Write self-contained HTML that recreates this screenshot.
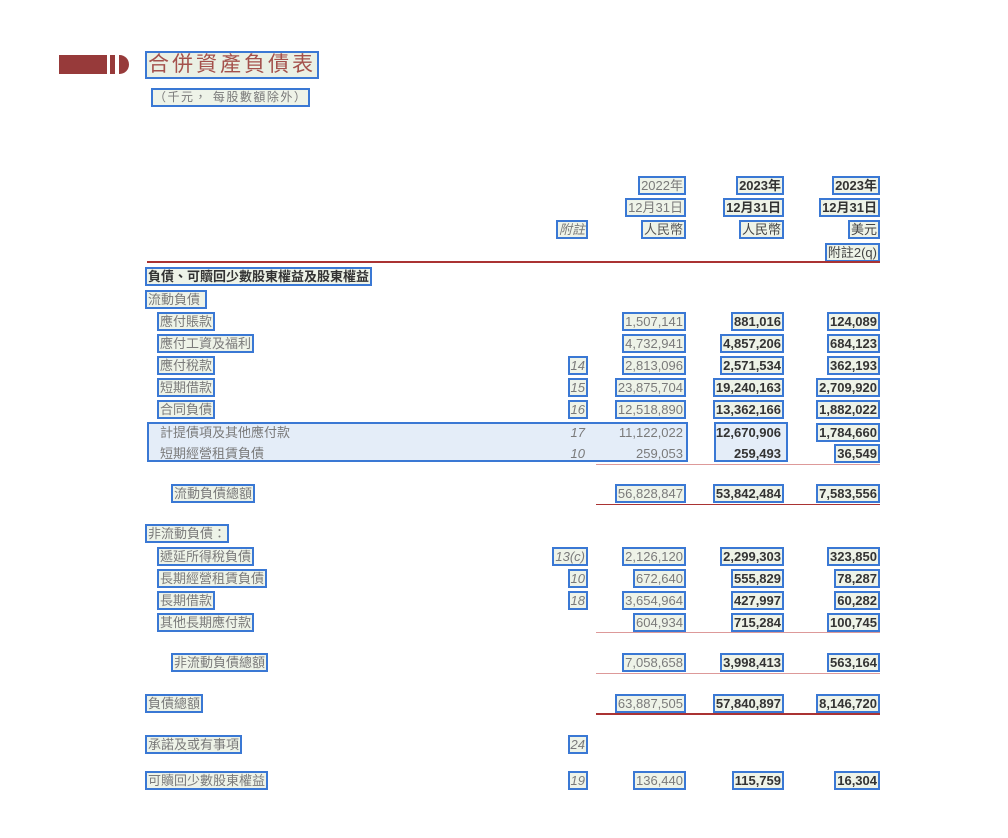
<!DOCTYPE html>
<html><head><meta charset="utf-8"><style>
body{margin:0;width:1008px;height:838px;background:#fff;position:relative;overflow:hidden;font-family:"Liberation Sans","Noto Sans CJK TC",sans-serif;}
.b{position:absolute;border:2px solid #3a78d4;background:#eef3e8;font-size:13px;line-height:15px;height:15px;padding:0 1px;color:#7a7a7a;white-space:nowrap;}
.k{color:#333;font-weight:bold;}
.i{font-style:italic;}
.t{border-color:transparent;background:transparent;}
.ln{position:absolute;height:1px;background:#d99;}
</style></head><body>
<div style="position:absolute;left:59px;top:55px;width:48px;height:19px;background:#973a3a"></div>
<div style="position:absolute;left:110px;top:55px;width:5px;height:19px;background:#973a3a"></div>
<div style="position:absolute;left:119px;top:55px;width:10px;height:19px;background:#973a3a;border-radius:0 10px 10px 0"></div>
<div class="b" style="left:145px;top:51px;height:24px;line-height:24px;font-size:21px;letter-spacing:3px;color:#a4514c;background:#eaf0e4">合併資產負債表</div>
<div class="b" style="left:151px;top:88px;font-size:12px;letter-spacing:1.5px;">（千元， 每股數額除外）</div>

<div class="b" style="right:322px;top:176px">2022年</div>
<div class="b k" style="right:224px;top:176px">2023年</div>
<div class="b k" style="right:128px;top:176px">2023年</div>
<div class="b" style="right:322px;top:198px">12月31日</div>
<div class="b k" style="right:224px;top:198px">12月31日</div>
<div class="b k" style="right:128px;top:198px">12月31日</div>
<div class="b i" style="right:420px;top:220px">附註</div>
<div class="b" style="right:322px;top:220px;color:#555">人民幣</div>
<div class="b" style="right:224px;top:220px;color:#444">人民幣</div>
<div class="b" style="right:128px;top:220px;color:#444">美元</div>
<div class="b" style="right:128px;top:243px;color:#444">附註2(q)</div>
<div class="ln" style="left:147px;top:261px;width:733px;height:2px;background:#a33"></div>

<div class="b k" style="left:145px;top:267px">負債、可贖回少數股東權益及股東權益</div>
<div class="b" style="left:145px;top:290px">流動負債&nbsp;</div>

<div style="position:absolute;left:147px;top:422px;width:537px;height:36px;background:#e4edf8;border:2px solid #3a78d4"></div>

<div class="b" style="left:157px;top:312px">應付賬款</div>
<div class="b" style="right:322px;top:312px">1,507,141</div>
<div class="b k" style="right:224px;top:312px">881,016</div>
<div class="b k" style="right:128px;top:312px">124,089</div>

<div class="b" style="left:157px;top:334px">應付工資及福利</div>
<div class="b" style="right:322px;top:334px">4,732,941</div>
<div class="b k" style="right:224px;top:334px">4,857,206</div>
<div class="b k" style="right:128px;top:334px">684,123</div>

<div class="b" style="left:157px;top:356px">應付稅款</div>
<div class="b i" style="right:420px;top:356px">14</div>
<div class="b" style="right:322px;top:356px">2,813,096</div>
<div class="b k" style="right:224px;top:356px">2,571,534</div>
<div class="b k" style="right:128px;top:356px">362,193</div>

<div class="b" style="left:157px;top:378px">短期借款</div>
<div class="b i" style="right:420px;top:378px">15</div>
<div class="b" style="right:322px;top:378px">23,875,704</div>
<div class="b k" style="right:224px;top:378px">19,240,163</div>
<div class="b k" style="right:128px;top:378px">2,709,920</div>

<div class="b" style="left:157px;top:400px">合同負債</div>
<div class="b i" style="right:420px;top:400px">16</div>
<div class="b" style="right:322px;top:400px">12,518,890</div>
<div class="b k" style="right:224px;top:400px">13,362,166</div>
<div class="b k" style="right:128px;top:400px">1,882,022</div>

<div class="b t" style="left:157px;top:423px">計提債項及其他應付款</div>
<div class="b i t" style="right:420px;top:423px">17</div>
<div class="b t" style="right:322px;top:423px">11,122,022</div>
<div style="position:absolute;left:714px;top:422px;width:70px;height:36px;border:2px solid #3a78d4;background:#e4edf8"></div>
<div class="b k t" style="right:224px;top:423px">12,670,906</div>
<div class="b k" style="right:128px;top:423px">1,784,660</div>

<div class="b t" style="left:157px;top:444px">短期經營租賃負債</div>
<div class="b i t" style="right:420px;top:444px">10</div>
<div class="b t" style="right:322px;top:444px">259,053</div>
<div class="b k t" style="right:224px;top:444px">259,493</div>
<div class="b k" style="right:128px;top:444px">36,549</div>
<div class="ln" style="left:596px;top:464px;width:284px"></div>

<div class="b" style="left:171px;top:484px">流動負債總額</div>
<div class="b" style="right:322px;top:484px">56,828,847</div>
<div class="b k" style="right:224px;top:484px">53,842,484</div>
<div class="b k" style="right:128px;top:484px">7,583,556</div>
<div class="ln" style="left:596px;top:504px;width:284px;background:#a33"></div>

<div class="b" style="left:145px;top:524px">非流動負債：</div>

<div class="b" style="left:157px;top:547px">遞延所得稅負債</div>
<div class="b i" style="right:420px;top:547px">13(c)</div>
<div class="b" style="right:322px;top:547px">2,126,120</div>
<div class="b k" style="right:224px;top:547px">2,299,303</div>
<div class="b k" style="right:128px;top:547px">323,850</div>

<div class="b" style="left:157px;top:569px">長期經營租賃負債</div>
<div class="b i" style="right:420px;top:569px">10</div>
<div class="b" style="right:322px;top:569px">672,640</div>
<div class="b k" style="right:224px;top:569px">555,829</div>
<div class="b k" style="right:128px;top:569px">78,287</div>

<div class="b" style="left:157px;top:591px">長期借款</div>
<div class="b i" style="right:420px;top:591px">18</div>
<div class="b" style="right:322px;top:591px">3,654,964</div>
<div class="b k" style="right:224px;top:591px">427,997</div>
<div class="b k" style="right:128px;top:591px">60,282</div>

<div class="b" style="left:157px;top:613px">其他長期應付款</div>
<div class="b" style="right:322px;top:613px">604,934</div>
<div class="b k" style="right:224px;top:613px">715,284</div>
<div class="b k" style="right:128px;top:613px">100,745</div>
<div class="ln" style="left:596px;top:632px;width:284px"></div>

<div class="b" style="left:171px;top:653px">非流動負債總額</div>
<div class="b" style="right:322px;top:653px">7,058,658</div>
<div class="b k" style="right:224px;top:653px">3,998,413</div>
<div class="b k" style="right:128px;top:653px">563,164</div>
<div class="ln" style="left:596px;top:673px;width:284px"></div>

<div class="b" style="left:145px;top:694px">負債總額</div>
<div class="b" style="right:322px;top:694px">63,887,505</div>
<div class="b k" style="right:224px;top:694px">57,840,897</div>
<div class="b k" style="right:128px;top:694px">8,146,720</div>
<div class="ln" style="left:596px;top:713px;width:284px;height:2px;background:#a33"></div>

<div class="b" style="left:145px;top:735px">承諾及或有事項</div>
<div class="b i" style="right:420px;top:735px">24</div>

<div class="b" style="left:145px;top:771px">可贖回少數股東權益</div>
<div class="b i" style="right:420px;top:771px">19</div>
<div class="b" style="right:322px;top:771px">136,440</div>
<div class="b k" style="right:224px;top:771px">115,759</div>
<div class="b k" style="right:128px;top:771px">16,304</div>
</body></html>
